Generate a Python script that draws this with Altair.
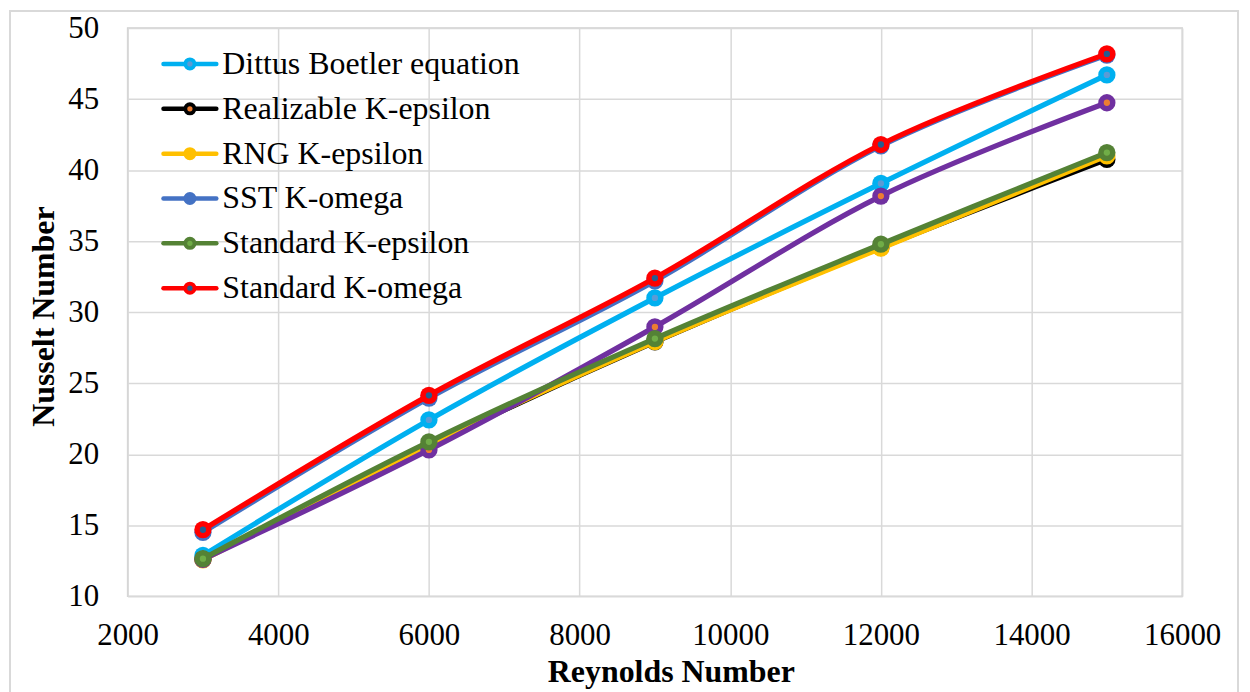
import altair as alt
import pandas as pd

# ---------------- data ----------------
reynolds = [3000, 6000, 9000, 12000, 15000]

dittus_boetler = [12.87, 22.41, 31.0, 39.06, 46.7]
realizable_keps = [12.6, 20.6, 27.9, 34.55, 40.75]
rng_keps = [12.55, 20.64, 27.93, 34.5, 41.0]
sst_komega = [14.5, 23.95, 32.2, 41.7, 48.1]
series7 = [12.6, 20.3, 28.96, 38.17, 44.74]
standard_keps = [12.64, 20.87, 28.14, 34.78, 41.23]
standard_komega = [14.68, 24.14, 32.4, 41.8, 48.18]

# drawing order (later = on top)
series_names = [
    "Dittus Boetler equation",
    "Realizable K-epsilon",
    "RNG K-epsilon",
    "SST K-omega",
    "Series 7",
    "Standard K-epsilon",
    "Standard K-omega",
]
series_values = [dittus_boetler, realizable_keps, rng_keps, sst_komega,
                 series7, standard_keps, standard_komega]

legend_names = [
    "Dittus Boetler equation",
    "Realizable K-epsilon",
    "RNG K-epsilon",
    "SST K-omega",
    "Standard K-epsilon",
    "Standard K-omega",
]

line_colors = {
    "Dittus Boetler equation": "#00B0F0",
    "Realizable K-epsilon": "#000000",
    "RNG K-epsilon": "#FFC000",
    "SST K-omega": "#4472C4",
    "Series 7": "#7030A0",
    "Standard K-epsilon": "#548235",
    "Standard K-omega": "#FF0000",
}
inner_colors = {
    "Dittus Boetler equation": "#5B9BD5",
    "Realizable K-epsilon": "#ED7D31",
    "RNG K-epsilon": "#FFC000",
    "SST K-omega": "#4472C4",
    "Series 7": "#ED7D31",
    "Standard K-epsilon": "#70AD47",
    "Standard K-omega": "#255E91",
}

x_ticks = [2000, 4000, 6000, 8000, 10000, 12000, 14000, 16000]
y_ticks = [10, 15, 20, 25, 30, 35, 40, 45, 50]

rows = []
for name, vals in zip(series_names, series_values):
    for re_, nu in zip(reynolds, vals):
        rows.append({"series": name, "re": re_, "nu": nu})
df = pd.DataFrame(rows)
legend_df = pd.DataFrame({"name": legend_names, "row": list(range(len(legend_names)))})

FONT = "Liberation Serif"
W, H = 1058, 570

x_enc = alt.X(
    "re:Q",
    scale=alt.Scale(domain=[2000, 16000], nice=False, zero=False),
    axis=alt.Axis(
        values=x_ticks, format="d", title="Reynolds Number",
        labelFont=FONT, labelFontSize=31, labelColor="#000000",
        labelPadding=39, labelBaseline="middle", labelFlush=False,
        labelAlign="center",
        titleFont=FONT, titleFontSize=32, titleFontWeight="bold", titleColor="#000000",
        titleX=545, titleY=76, titleBaseline="middle", titleAlign="center",
    ),
)
y_enc = alt.Y(
    "nu:Q",
    scale=alt.Scale(domain=[10, 50], nice=False, zero=False),
    axis=alt.Axis(
        values=y_ticks, title="Nusselt Number",
        labelFont=FONT, labelFontSize=31, labelColor="#000000",
        labelPadding=29, labelBaseline="middle", labelFlush=False,
        titleFont=FONT, titleFontSize=32, titleFontWeight="bold", titleColor="#000000",
        titleX=-84, titleY=289, titleAngle=270,
        titleBaseline="middle", titleAlign="center",
    ),
)

layers = []
for name in series_names:
    base = alt.Chart(df).transform_filter(alt.datum.series == name)
    layers.append(
        base.mark_line(interpolate="cardinal", strokeWidth=5.25,
                       color=line_colors[name], strokeCap="round",
                       strokeJoin="round").encode(x=x_enc, y=y_enc)
    )
    layers.append(
        base.mark_circle(size=300, opacity=1, color=line_colors[name])
        .encode(x=x_enc, y=y_enc)
    )
    layers.append(
        base.mark_circle(size=40, opacity=1, color=inner_colors[name])
        .encode(x=x_enc, y=y_enc)
    )

main = alt.layer(*layers)

# ---------- legend (inside plot, top-left) ----------
leg_y = alt.Y("row:Q", scale=alt.Scale(domain=[0, len(legend_names) - 1],
              range=[36, 261], nice=False, zero=False), axis=None)
leg_color = alt.Color("name:N", scale=alt.Scale(domain=legend_names,
                      range=[line_colors[n] for n in legend_names]), legend=None)
leg_inner = alt.Fill("name:N", scale=alt.Scale(domain=legend_names,
                     range=[inner_colors[n] for n in legend_names]), legend=None)

leg_base = alt.Chart(legend_df)
leg_line = leg_base.mark_rule(strokeWidth=4.5, strokeCap="round").encode(
    x=alt.value(36), x2=alt.value(89), y=leg_y, color=leg_color)
leg_outer = leg_base.mark_circle(size=170, opacity=1).encode(
    x=alt.value(62.5), y=leg_y, color=leg_color)
leg_in = leg_base.mark_point(size=28, filled=True, shape="circle", opacity=1,
                             strokeWidth=0).encode(
    x=alt.value(62.5), y=leg_y, fill=leg_inner)
leg_text = leg_base.mark_text(align="left", baseline="middle", font=FONT,
                              fontSize=32, color="#000000").encode(
    x=alt.value(95), y=leg_y, text="name:N")

legend = alt.layer(leg_line, leg_outer, leg_in, leg_text)

border = alt.Chart(alt.Data(values=[{}])).mark_rect(
    fillOpacity=0, stroke="#D9D9D9", strokeWidth=2).encode(
    x=alt.value(-118), x2=alt.value(1114), y=alt.value(-17), y2=alt.value(700))

chart = alt.layer(border, main, legend).resolve_scale(
    y="independent", color="independent", fill="independent"
).properties(
    width=W, height=H,
    autosize=alt.AutoSizeParams(type="none"),
    padding={"left": 120, "top": 19, "right": 60, "bottom": 95},
    background="white",
).configure(
    font=FONT
).configure_view(
    stroke="#D0D0D0", strokeWidth=1.5
).configure_axis(
    labelFont=FONT, labelFontSize=31, labelColor="#000000",
    titleFont=FONT, titleFontSize=32, titleFontWeight="bold", titleColor="#000000",
    grid=True, gridColor="#D9D9D9", gridWidth=1.5,
    ticks=False, domain=False,
)

chart.save("out.html", embed_options={"renderer": "svg", "actions": False})
